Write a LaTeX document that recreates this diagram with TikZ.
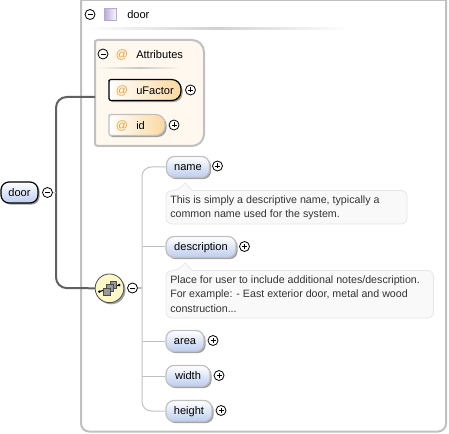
\documentclass[tikz,border=0pt]{standalone}
\usepackage{fontspec}
\setmainfont{Liberation Sans}
\usetikzlibrary{shadows,calc}
\definecolor{cream}{HTML}{FEF8EE}
\definecolor{frame}{HTML}{C0C0C0}
\definecolor{thick}{HTML}{606060}
\definecolor{orangeAt}{HTML}{F0A030}
\definecolor{docfill}{HTML}{F9F9F9}
\definecolor{docline}{HTML}{E6E6E6}
\definecolor{pillblue}{HTML}{BCCDF0}
\definecolor{pillorange}{HTML}{FBD9A0}
\definecolor{purp}{HTML}{B8A8D8}
\definecolor{seqfill}{HTML}{FDF8C8}
\tikzset{
  x=0.75pt,y=-0.75pt,
  pillshadow/.style={drop shadow={shadow xshift=1.2pt,shadow yshift=-1.2pt,fill=black!50,opacity=.75}},
  elem/.style={draw=frame,line width=0.9pt,rounded corners=6pt,pillshadow,top color=white,bottom color=pillblue,
     minimum height=15.75pt,inner sep=0pt,text height=6.5pt,text depth=0.9pt,font=\fontsize{8.3}{10}\selectfont},
  attrpill/.style={draw=frame,line width=0.9pt,pillshadow,shading angle=135,left color=white,right color=pillorange},
  exbtn/.style={circle,draw=black,line width=0.6pt,fill=white,minimum size=7.5pt,inner sep=0pt},
  lab/.style={anchor=west,inner sep=0pt,yshift=-0.4pt,font=\fontsize{8.3}{10}\selectfont},
  atsign/.style={inner sep=0pt,yshift=-0.4pt,text=orangeAt,font=\fontsize{9}{10}\selectfont},
  doctext/.style={anchor=west,inner sep=0pt,text=black!80,font=\fontsize{8}{10}\selectfont},
  docbox/.style={draw=docline,fill=docfill,line width=0.6pt,rounded corners=4.5pt},
  thin conn/.style={draw=frame,line width=0.75pt},
  thick conn/.style={draw=thick,line width=1.5pt},
  icon box/.style={draw=black!70,fill=black!40,minimum size=5pt,inner sep=0pt,line width=0.4pt},
}
\newcommand{\plusbtn}[2]{\node[exbtn] (#1) at (#2) {};
  \draw[line width=0.5pt] ($(#1)+(-2.5,0)$) -- ($(#1)+(2.5,0)$) ($(#1)+(0,-2.5)$) -- ($(#1)+(0,2.5)$);}
\newcommand{\minusbtn}[2]{\node[exbtn] (#1) at (#2) {};
  \draw[line width=0.5pt] ($(#1)+(-2.5,0)$) -- ($(#1)+(2.5,0)$);}
\begin{document}
\begin{tikzpicture}
\useasboundingbox (0,0) rectangle (449,434);
% outer frame
\draw[frame,line width=1.5pt,rounded corners=6pt] (81,-6) -- (81,431.5) -- (446,431.5) -- (446,-6);
\draw[frame,line width=1.5pt] (81,0.5) -- (446,0.5);
\minusbtn{mdoor}{90,14.5}
\node[draw=purp,line width=0.8pt,shading angle=135,left color=purp,right color=white,minimum size=9.6pt,inner sep=0pt] (sq) at (110.5,14.5) {};
\node[lab] (tdoor) at (127,14.5) {door};
\shade[left color=white,right color=white,middle color=black!18] (84,28) rectangle (350,30);
% attributes
\draw[frame,line width=1.5pt,fill=cream] (95,43) [rounded corners=2pt] -- (95,40) [rounded corners=9pt] -- (204,40) -- (204,146) [rounded corners=2pt] -- (95,146) -- cycle;
\coordinate (attrs) at (95,97);
\minusbtn{mattrs}{103,54}
\node[atsign] (a0) at (122,54) {@};
\node[lab] (tattrs) at (136,54) {Attributes};
\shade[left color=cream,right color=cream,middle color=black!22] (98,67.5) rectangle (180,69);
\path[attrpill,draw=black] (109,82) [rounded corners=1.5pt] -- (109,79.5) [rounded corners=7pt] -- (181,79.5) -- (181,100.5) [rounded corners=1.5pt] -- (109,100.5) -- cycle;
\node[atsign] (a1) at (122,90) {@};
\node[lab] (tu) at (136,90) {uFactor};
\plusbtn{pu}{190.5,90}
\path[attrpill] (109,117) [rounded corners=1.5pt] -- (109,114.5) [rounded corners=7pt] -- (165,114.5) -- (165,135.5) [rounded corners=1.5pt] -- (109,135.5) -- cycle;
\node[atsign] (a2) at (122,125) {@};
\node[lab] (ti) at (136,125) {id};
\plusbtn{pi}{174,125}
% root
\coordinate (bus) at (56,192.5);
\node[elem,draw=black,minimum width=27.75pt] (door) at (19.5,192.5) {door};
\minusbtn{mroot}{47.5,192.5}
\fill[black!50,opacity=.75] (111.2,290) circle (14.3);
\node[circle,draw=black!70,line width=0.6pt,fill=seqfill,minimum size=21.5pt,inner sep=0pt] (seq) at (109.5,288.3) {};
\draw[thick conn,rounded corners=8pt] (attrs) -- (56,97) -- (56,288) -- (seq.west);
\draw[thin conn] (mroot.east) -- (bus);
% sequence icon
\draw[line width=0.8pt] (99.3,291.7) -- (119.3,285);
\fill (99.3,291.7) circle (1pt) (119.3,285) circle (1pt);
\node[icon box] (s3) at (113.3,285) {};
\node[icon box] (s2) at (110,288) {};
\node[icon box] (s1) at (106.7,291.7) {};
\minusbtn{mseq}{132.5,288}
% children
\node[elem,minimum width=32.25pt] (name) at (188,167) {name};
\plusbtn{pname}{217.5,166}
\node[elem,minimum width=52.5pt] (desc) at (201,247) {description};
\plusbtn{pdesc}{244.5,246.5}
\node[elem,minimum width=28.5pt] (area) at (185,341) {area};
\plusbtn{parea}{213,340.5}
\node[elem,minimum width=33pt] (width) at (188,376) {width};
\plusbtn{pwidth}{219,375.5}
\node[elem,minimum width=34.5pt] (height) at (189,411) {height};
\plusbtn{pheight}{221,410.5}
% connectors
\coordinate (spine) at (142,288);
\draw[thin conn] (mseq.east) -- (spine);
\draw[thin conn,rounded corners=7pt] (name.west) -- (142,167) -- (142,411) -- (height.west);
\draw[thin conn] (142,247) -- (desc.west);
\draw[thin conn] (142,341) -- (area.west);
\draw[thin conn] (142,376) -- (width.west);
% docs
\draw[docbox] (166,190.5) -- (178,190.5) [sharp corners] -- (185,183) -- (192,190.5) [rounded corners=4.5pt] -- (407,190.5) -- (407,224) -- (166,224) -- cycle;
\node[doctext] (d1) at (170,201) {This is simply a descriptive name, typically a};
\node[doctext] (d2) at (170,215) {common name used for the system.};
\draw[docbox] (166,270.5) -- (178,270.5) [sharp corners] -- (185,263) -- (192,270.5) [rounded corners=4.5pt] -- (433.5,270.5) -- (433.5,318) -- (166,318) -- cycle;
\node[doctext] (d3) at (170,280.5) {Place for user to include additional notes/description.};
\node[doctext] (d4) at (170,295) {For example: - East exterior door, metal and wood};
\node[doctext] (d5) at (170,309) {construction...};
\end{tikzpicture}
\end{document}
